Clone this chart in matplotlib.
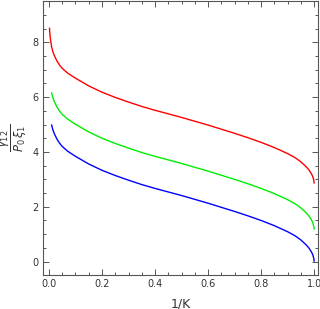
import numpy as np
import matplotlib.pyplot as plt
from matplotlib.ticker import MultipleLocator

# x = 1/K
x_common = [0.01, 0.015, 0.02, 0.03, 0.04, 0.05, 0.07, 0.1, 0.15, 0.2, 0.25, 0.3,
            0.35, 0.4, 0.45, 0.5, 0.55, 0.6, 0.65, 0.7, 0.75, 0.8, 0.85, 0.9,
            0.93, 0.95, 0.97, 0.98, 0.99, 0.995, 0.999, 1.0]
blue_y = [4.98, 4.80, 4.67, 4.47, 4.32, 4.20, 4.03, 3.84, 3.56, 3.33, 3.14, 2.97,
          2.81, 2.67, 2.54, 2.41, 2.27, 2.13, 1.98, 1.83, 1.67, 1.50, 1.31, 1.09,
          0.93, 0.79, 0.61, 0.50, 0.35, 0.25, 0.11, 0.02]
green_y = [6.15, 5.97, 5.84, 5.64, 5.49, 5.37, 5.20, 5.01, 4.73, 4.50, 4.31, 4.14,
           3.98, 3.84, 3.71, 3.58, 3.44, 3.30, 3.15, 3.00, 2.84, 2.67, 2.48, 2.26,
           2.10, 1.96, 1.78, 1.67, 1.52, 1.42, 1.28, 1.19]
red_x = [0.002, 0.0035, 0.005] + x_common
red_y = [8.51, 8.30, 8.15,
         7.83, 7.65, 7.52, 7.32, 7.17, 7.05, 6.88, 6.69, 6.41, 6.18, 5.99, 5.82,
         5.66, 5.52, 5.39, 5.26, 5.12, 4.98, 4.83, 4.68, 4.52, 4.35, 4.16, 3.94,
         3.78, 3.64, 3.46, 3.35, 3.20, 3.10, 2.96, 2.87]

frame_col = "#555555"
text_col = "#333333"

fig = plt.figure(figsize=(3.2, 3.09), dpi=100)
ax = fig.add_axes([0.134, 0.110, 0.860, 0.887])

ax.plot(red_x, red_y, color="#ff0000", lw=1.0)
ax.plot(x_common, green_y, color="#00ee00", lw=1.0)
ax.plot(x_common, blue_y, color="#0000ff", lw=1.0)

ax.set_xlim(-0.023, 1.015)
ax.set_ylim(-0.49, 9.51)

ax.xaxis.set_major_locator(MultipleLocator(0.2))
ax.xaxis.set_minor_locator(MultipleLocator(0.05))
ax.yaxis.set_major_locator(MultipleLocator(2))
ax.yaxis.set_minor_locator(MultipleLocator(0.5))
ax.tick_params(which="both", direction="in", top=True, right=True,
               color=frame_col, labelsize=7, labelcolor=text_col, width=0.7)
ax.tick_params(which="major", length=4, pad=3)
ax.tick_params(which="minor", length=2)
ax.xaxis.set_major_formatter(plt.FuncFormatter(lambda v, p: f"{v:.1f}"))
for s in ax.spines.values():
    s.set_color(frame_col)
    s.set_linewidth(0.8)

ax.set_xlabel("1/K", fontsize=9, color=text_col, labelpad=6)
ax.set_ylabel(r"$\frac{\gamma_{12}}{P_0\,\xi_1}$", fontsize=12, color=text_col)
ax.yaxis.set_label_coords(-0.045, 0.5)

fig.savefig("out.png", dpi=100)
